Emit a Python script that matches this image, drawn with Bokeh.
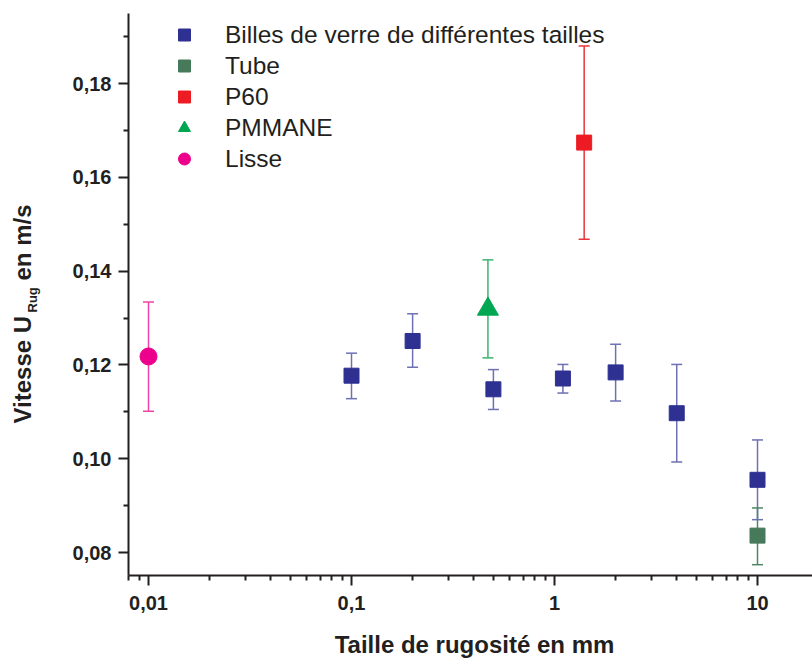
import math
from bokeh.plotting import figure
from bokeh.models import (Range1d, FixedTicker, CustomJSTickFormatter, Whisker, TeeHead,
                          ColumnDataSource, Legend, LegendItem, Label)
from bokeh.embed import file_html
from bokeh.resources import INLINE

# ---- data ----
billes_x = [0.1, 0.2, 0.5, 1.1, 2, 4, 10]
billes_y = [0.1177, 0.1251, 0.1148, 0.1171, 0.1184, 0.1097, 0.0955]
billes_up = [0.1225, 0.1309, 0.1190, 0.1201, 0.1244, 0.1201, 0.1040]
billes_lo = [0.1128, 0.1195, 0.1105, 0.1140, 0.1123, 0.0993, 0.0870]

tube_x = [10]
tube_y = [0.0836]
tube_up = [0.0895]
tube_lo = [0.0774]

p60_x = [1.4]
p60_y = [0.1674]
p60_up = [0.1880]
p60_lo = [0.1468]

pmma_x = [0.47]
pmma_y = [0.1319]
pmma_up = [0.1424]
pmma_lo = [0.1215]

lisse_x = [0.01]
lisse_y = [0.1218]
lisse_up = [0.1334]
lisse_lo = [0.1101]

x_major = [0.01, 0.1, 1, 10]
y_major = [0.08, 0.10, 0.12, 0.14, 0.16, 0.18]
y_minor = [0.09, 0.11, 0.13, 0.15, 0.17, 0.19]

# axis extents (data units)
X_MIN, X_MAX = 0.007966, 18.66
Y_MIN, Y_MAX = 0.0751, 0.19493

FONT = "Liberation Sans"
DARK = "#231F20"

# frame covers the whole canvas; axes are pinned at fixed data locations
p = figure(width=812, height=662, x_axis_type="log",
           x_range=Range1d(0.001866, X_MAX), y_range=Range1d(0.056546, 0.19770),
           output_backend="svg", toolbar_location=None, min_border=0)
p.outline_line_color = None
p.xgrid.visible = False
p.ygrid.visible = False

x_minor = [0.008, 0.009] + [k * 0.01 for k in range(2, 10)] + [k * 0.1 for k in range(2, 10)] \
    + [k * 1.0 for k in range(2, 10)]
p.xaxis.ticker = FixedTicker(ticks=x_major, minor_ticks=x_minor)
p.yaxis.ticker = FixedTicker(ticks=y_major, minor_ticks=y_minor)
p.xaxis.formatter = CustomJSTickFormatter(code="return tick.toString().replace('.', ',');")
p.yaxis.formatter = CustomJSTickFormatter(code="return tick.toFixed(2).replace('.', ',');")
p.xaxis.fixed_location = Y_MIN
p.xaxis.bounds = (X_MIN, X_MAX)
p.yaxis.fixed_location = X_MIN
p.yaxis.bounds = (Y_MIN, Y_MAX)

for ax in (p.xaxis[0], p.yaxis[0]):
    ax.axis_line_width = 2
    ax.axis_line_color = DARK
    ax.major_tick_line_width = 2
    ax.major_tick_line_color = DARK
    ax.minor_tick_line_width = 2
    ax.minor_tick_line_color = DARK
    ax.major_tick_out = 10
    ax.major_tick_in = 0
    ax.minor_tick_out = 5
    ax.minor_tick_in = 0
    ax.major_label_text_font = FONT
    ax.major_label_text_font_style = "bold"
    ax.major_label_text_font_size = "20px"
    ax.major_label_text_color = DARK

p.xaxis.major_label_standoff = 11
p.yaxis.major_label_standoff = 7

def title(txt, xx, yy, fs, angle=0.0, align="left"):
    p.add_layout(Label(x=xx, y=yy, x_units="screen", y_units="screen", text=txt,
                       angle=angle, text_align=align, text_baseline="alphabetic",
                       text_font=FONT, text_font_style="bold", text_font_size=fs,
                       text_color=DARK))

# x-axis title
title("Taille de rugosité en mm", 474, 18, "24px", align="center")
# y-axis title with subscript
title("Vitesse U", 22, 239, "24px", angle=math.pi / 2)
title("Rug", 32, 350, "13px", angle=math.pi / 2)
title("en m/s", 22, 382, "24px", angle=math.pi / 2)

def series(xs, ys, up, lo, marker, size, color, bar_color):
    src = ColumnDataSource(dict(x=xs, y=ys, upper=up, lower=lo))
    w = Whisker(source=src, base="x", upper="upper", lower="lower", dimension="height",
                line_color=bar_color, line_width=1.5, level="underlay",
                upper_head=TeeHead(size=11, line_color=bar_color, line_width=1.5),
                lower_head=TeeHead(size=11, line_color=bar_color, line_width=1.5))
    p.add_layout(w)
    return p.scatter("x", "y", source=src, marker=marker, size=size,
                     fill_color=color, line_color=color, line_width=1)

r_b = series(billes_x, billes_y, billes_up, billes_lo, "square", 15, "#2E3192", "#6E70B4")
r_t = series(tube_x, tube_y, tube_up, tube_lo, "square", 15, "#477A5B", "#4F8663")
r_p = series(p60_x, p60_y, p60_up, p60_lo, "square", 15, "#ED1C24", "#E8353B")
r_m = series(pmma_x, pmma_y, pmma_up, pmma_lo, "triangle", 21, "#00A651", "#3DB36E")
r_l = series(lisse_x, lisse_y, lisse_up, lisse_lo, "circle", 17, "#EC008C", "#EE45A4")

legend = Legend(items=[
    LegendItem(label="Billes de verre de différentes tailles", renderers=[r_b]),
    LegendItem(label="Tube", renderers=[r_t]),
    LegendItem(label="P60", renderers=[r_p]),
    LegendItem(label="PMMANE", renderers=[r_m]),
    LegendItem(label="Lisse", renderers=[r_l]),
], location=(169, 488))
legend.margin = 0
legend.padding = 0
legend.spacing = 0
legend.glyph_width = 30
legend.glyph_height = 31
legend.label_height = 31
legend.label_standoff = 26
legend.border_line_color = None
legend.background_fill_alpha = 0
legend.label_text_font = FONT
legend.label_text_font_size = "24.5px"
legend.label_text_color = DARK
p.add_layout(legend)

open("out.html", "w").write(file_html(p, INLINE))
